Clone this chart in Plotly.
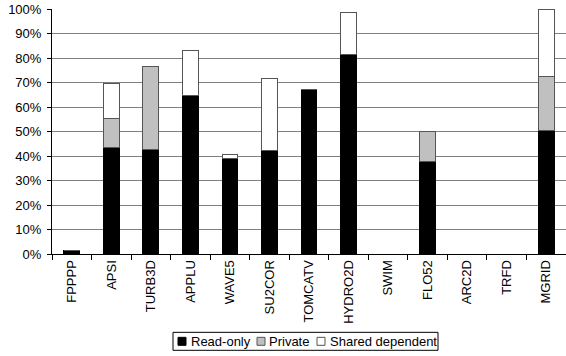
import plotly.graph_objects as go

categories = ["FPPPP", "APSI", "TURB3D", "APPLU", "WAVE5", "SU2COR", "TOMCATV",
              "HYDRO2D", "SWIM", "FLO52", "ARC2D", "TRFD", "MGRID"]
read_only = [1.5, 43.5, 42.7, 64.5, 38.8, 42.2, 67.0, 81.6, 0, 37.8, 0, 0, 50.3]
private = [0, 12.0, 34.0, 0, 0, 0, 0, 0, 0, 12.2, 0, 0, 22.2]
shared_dep = [0, 14.0, 0, 18.4, 1.9, 29.5, 0, 17.0, 0, 0, 0, 0, 27.5]
series_names = ["Read-only", "Private", "Shared dependent"]
series_colors = ["#000000", "#c0c0c0", "#ffffff"]
y_ticks = [0, 10, 20, 30, 40, 50, 60, 70, 80, 90, 100]
y_labels = [f"{v}%" for v in y_ticks]

W, H = 566, 356
ML, MR, MT, MB = 52, 0, 9, 101.5
PW, PH = W - ML - MR, H - MT - MB

def px_x(p):
    return (p - ML) / PW

def px_y(p):
    return (H - MB - p) / PH

fig = go.Figure()
for vals, name, col in zip([read_only, private, shared_dep], series_names, series_colors):
    edge = "#000000" if col == "#000000" else "#555555"
    fig.add_trace(go.Bar(x=categories, y=vals, name=name, showlegend=False,
                         marker=dict(color=col, line=dict(color=edge, width=1))))

# legend (drawn manually for compact Excel-like spacing)
box = (173, 333, 438, 351)
fig.add_shape(type="rect", xref="paper", yref="paper",
              x0=px_x(box[0]), x1=px_x(box[2]), y0=px_y(box[3]), y1=px_y(box[1]),
              line=dict(color="#000000", width=1), fillcolor="white", layer="above")
sw_x = [178, 257, 317]
tx_x = [191, 268.5, 330]
cy = 342
for sx, tx, name, col in zip(sw_x, tx_x, series_names, series_colors):
    edge = "#000000" if col == "#000000" else "#555555"
    fig.add_shape(type="rect", xref="paper", yref="paper",
                  x0=px_x(sx), x1=px_x(sx + 8), y0=px_y(cy + 4), y1=px_y(cy - 4),
                  line=dict(color=edge, width=1), fillcolor=col, layer="above")
    fig.add_annotation(x=px_x(tx), y=px_y(cy), xref="paper", yref="paper",
                       text=name, showarrow=False, xanchor="left", yanchor="middle",
                       font=dict(size=13, color="#000000"), xshift=-2)

fig.update_layout(
    width=W, height=H,
    barmode="stack", bargap=0.6,
    margin=dict(l=ML, r=MR, t=MT, b=MB, autoexpand=False),
    paper_bgcolor="white", plot_bgcolor="white",
    font=dict(family="Liberation Sans, Arial, sans-serif", size=13, color="#000000"),
    xaxis=dict(tickangle=-90, ticks="outside", tickson="boundaries", ticklen=5,
               tickcolor="#000", showline=True, linecolor="#000", linewidth=1,
               showgrid=False, automargin=False, tickfont=dict(size=13)),
    yaxis=dict(range=[0, 100], tickvals=y_ticks, ticktext=y_labels, ticks="outside",
               ticklen=4, tickcolor="#000", showline=True, linecolor="#000", linewidth=1,
               showgrid=True, gridcolor="#808080", gridwidth=1, zeroline=False,
               automargin=False, tickfont=dict(size=13), ticklabelstandoff=3),
    showlegend=False,
)
fig.write_html("out.html")
